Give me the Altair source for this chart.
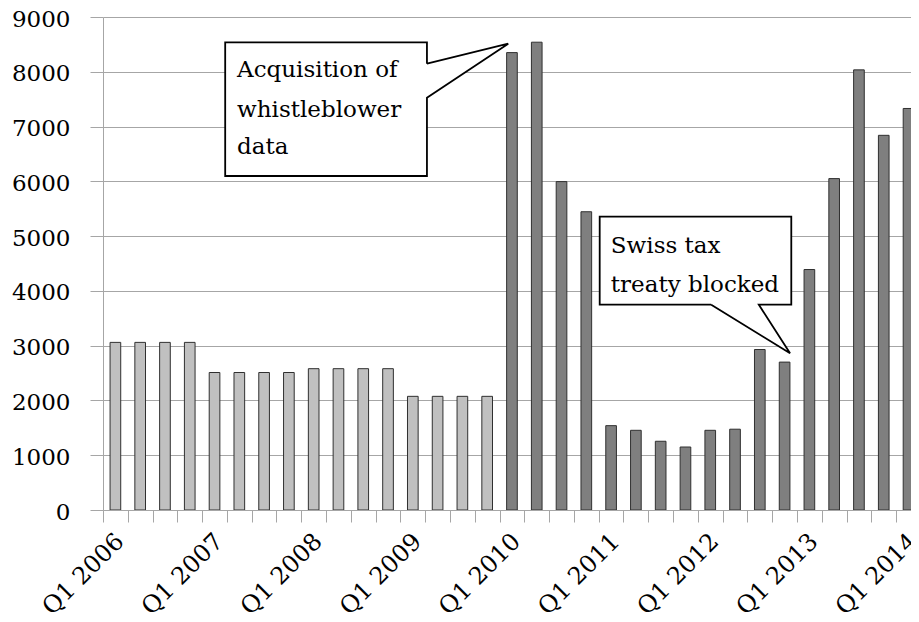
import altair as alt
import pandas as pd

# ---------------- data ----------------
quarters = [
    "Q1 2006", "Q2 2006", "Q3 2006", "Q4 2006",
    "Q1 2007", "Q2 2007", "Q3 2007", "Q4 2007",
    "Q1 2008", "Q2 2008", "Q3 2008", "Q4 2008",
    "Q1 2009", "Q2 2009", "Q3 2009", "Q4 2009",
    "Q1 2010", "Q2 2010", "Q3 2010", "Q4 2010",
    "Q1 2011", "Q2 2011", "Q3 2011", "Q4 2011",
    "Q1 2012", "Q2 2012", "Q3 2012", "Q4 2012",
    "Q1 2013", "Q2 2013", "Q3 2013", "Q4 2013",
    "Q1 2014",
]
values = [
    3060, 3060, 3060, 3060,
    2510, 2510, 2510, 2510,
    2580, 2580, 2580, 2580,
    2075, 2075, 2075, 2075,
    8350, 8540, 5995, 5445,
    1540, 1455, 1255, 1150,
    1455, 1475, 2930, 2700,
    4390, 6050, 8035, 6840,
    7330,
]
phase = ["before"] * 16 + ["after"] * 17
year_labels = ["Q1 2006", "Q1 2007", "Q1 2008", "Q1 2009", "Q1 2010",
               "Q1 2011", "Q1 2012", "Q1 2013", "Q1 2014"]
y_ticks = [0, 1000, 2000, 3000, 4000, 5000, 6000, 7000, 8000, 9000]

callout1_lines = ["Acquisition of", "whistleblower", "data"]
callout2_lines = ["Swiss tax", "treaty blocked"]

# annotation geometry in data units (x = quarter index, y = value)
c1_box = dict(x0=4.93, x1=13.07, ytop=8538, ybot=6097)
c1_tail = dict(ya=8147, yc=7527, tipx=16.35, tipy=8512)
c1_text = dict(x=5.41, ys=[7899, 7180, 6499])

c2_box = dict(x0=20.04, x1=27.77, ytop=5354, ybot=3748)
c2_tail = dict(xd=24.54, xe=26.46, tipx=27.72, tipy=2861, ymid=3211)
c2_text = dict(x=20.49, ys=[4686, 3985])

# ---------------- tables ----------------
bars_df = pd.DataFrame({"idx": list(range(len(values))), "quarter": quarters,
                        "value": values, "phase": phase})

rect_df = pd.DataFrame([
    {"x": c1_box["x0"], "x2": c1_box["x1"], "y": c1_box["ytop"], "y2": c1_box["ybot"]},
    {"x": c2_box["x0"], "x2": c2_box["x1"], "y": c2_box["ytop"], "y2": c2_box["ybot"]},
])

area_df = pd.DataFrame([
    {"c": 1, "x": c1_box["x1"], "y": c1_tail["ya"], "y2": c1_tail["yc"]},
    {"c": 1, "x": c1_tail["tipx"], "y": c1_tail["tipy"], "y2": c1_tail["tipy"]},
    {"c": 2, "x": c2_tail["xd"], "y": c2_box["ybot"], "y2": c2_box["ybot"]},
    {"c": 2, "x": c2_tail["xe"], "y": c2_box["ybot"], "y2": c2_tail["ymid"]},
    {"c": 2, "x": c2_tail["tipx"], "y": c2_tail["tipy"], "y2": c2_tail["tipy"]},
])

outline_pts = []
p1 = [(c1_box["x1"], c1_tail["ya"]), (c1_tail["tipx"], c1_tail["tipy"]),
      (c1_box["x1"], c1_tail["yc"]), (c1_box["x1"], c1_box["ybot"]),
      (c1_box["x0"], c1_box["ybot"]), (c1_box["x0"], c1_box["ytop"]),
      (c1_box["x1"], c1_box["ytop"]), (c1_box["x1"], c1_tail["ya"])]
p2 = [(c2_tail["xd"], c2_box["ybot"]), (c2_tail["tipx"], c2_tail["tipy"]),
      (c2_tail["xe"], c2_box["ybot"]), (c2_box["x1"], c2_box["ybot"]),
      (c2_box["x1"], c2_box["ytop"]), (c2_box["x0"], c2_box["ytop"]),
      (c2_box["x0"], c2_box["ybot"]), (c2_tail["xd"], c2_box["ybot"])]
for c, pts in ((1, p1), (2, p2)):
    for k, (px, py) in enumerate(pts):
        outline_pts.append({"c": c, "k": k, "x": px, "y": py})
outline_df = pd.DataFrame(outline_pts)

text_df = pd.DataFrame(
    [{"x": c1_text["x"], "y": yy, "t": t} for t, yy in zip(callout1_lines, c1_text["ys"])]
    + [{"x": c2_text["x"], "y": yy, "t": t} for t, yy in zip(callout2_lines, c2_text["ys"])]
)

# ---------------- scales / axes ----------------
GRAY = "#a6a6a6"
FONT = "DejaVu Serif"
n = len(values)
x_scale = alt.Scale(domain=[0, 32.6], nice=False, zero=False)
y_scale = alt.Scale(domain=[0, 9000], nice=False, zero=True)

x_tick_values = sorted(set([float(i) for i in range(n)] + [i + 0.5 for i in range(0, n, 4)]))
labels_js = "[" + ",".join('"' + s + '"' for s in year_labels) + "]"
label_expr = "datum.value % 4 == 0.5 ? " + labels_js + "[floor(datum.value / 4)] : ''"

x_axis = alt.Axis(
    values=x_tick_values,
    orient="bottom",
    title=None,
    grid=False,
    domainColor=GRAY,
    tickColor=GRAY,
    tickSize=12,
    tickOpacity={"condition": {"test": "datum.value % 1 === 0", "value": 1}, "value": 0},
    labelExpr=label_expr,
    labelAngle=-45,
    labelAlign="right",
    labelBaseline="top",
    labelPadding=7,
    labelOffset=-4,
    labelFont=FONT,
    labelFontSize=24,
    labelColor="black",
    labelOverlap=False,
    labelFlush=False,
    labelBound=False,
)
y_axis = alt.Axis(
    values=y_ticks,
    format="d",
    title=None,
    grid=True,
    gridColor=GRAY,
    gridWidth=1,
    domainColor=GRAY,
    tickColor=GRAY,
    tickSize=13,
    labelPadding=20,
    labelOffset=2,
    labelFont=FONT,
    labelFontSize=23,
    labelColor="black",
    labelOverlap=False,
)

# ---------------- layers ----------------
bars = alt.Chart(bars_df).transform_calculate(
    x0="datum.idx + 0.285", x1="datum.idx + 0.715", base="0"
).mark_rect(clip=True, stroke="#303030", strokeWidth=1).encode(
    x=alt.X("x0:Q", scale=x_scale, axis=x_axis),
    x2="x1:Q",
    y=alt.Y("value:Q", scale=y_scale, axis=y_axis),
    y2="base:Q",
    color=alt.Color("phase:N", scale=alt.Scale(domain=["before", "after"],
                                                range=["#c0c0c0", "#7f7f7f"]), legend=None),
)

boxes = alt.Chart(rect_df).mark_rect(fill="white").encode(
    x=alt.X("x:Q", scale=x_scale, axis=x_axis),
    x2="x2:Q",
    y=alt.Y("y:Q", scale=y_scale, axis=y_axis),
    y2="y2:Q",
)

tails = alt.Chart(area_df).mark_area(fill="white", stroke="white", strokeWidth=1).encode(
    x=alt.X("x:Q", scale=x_scale, axis=x_axis),
    y=alt.Y("y:Q", scale=y_scale, axis=y_axis),
    y2="y2:Q",
    detail="c:N",
)

outlines = alt.Chart(outline_df).mark_line(color="black", strokeWidth=1.8,
                                           strokeJoin="miter").encode(
    x=alt.X("x:Q", scale=x_scale, axis=x_axis),
    y=alt.Y("y:Q", scale=y_scale, axis=y_axis),
    order="k:Q",
    detail="c:N",
)

texts = alt.Chart(text_df).mark_text(font=FONT, fontSize=23, align="left",
                                     baseline="alphabetic", color="black").encode(
    x=alt.X("x:Q", scale=x_scale, axis=x_axis),
    y=alt.Y("y:Q", scale=y_scale, axis=y_axis),
    text="t:N",
)

chart = alt.layer(bars, boxes, tails, outlines, texts).properties(
    width=808,
    height=493,
    autosize=alt.AutoSizeParams(type="none"),
    padding={"left": 95, "top": 9, "right": 0, "bottom": 114},
    background="white",
).configure_view(stroke=None)

chart.save("out.html", embed_options={"renderer": "svg", "actions": False})
